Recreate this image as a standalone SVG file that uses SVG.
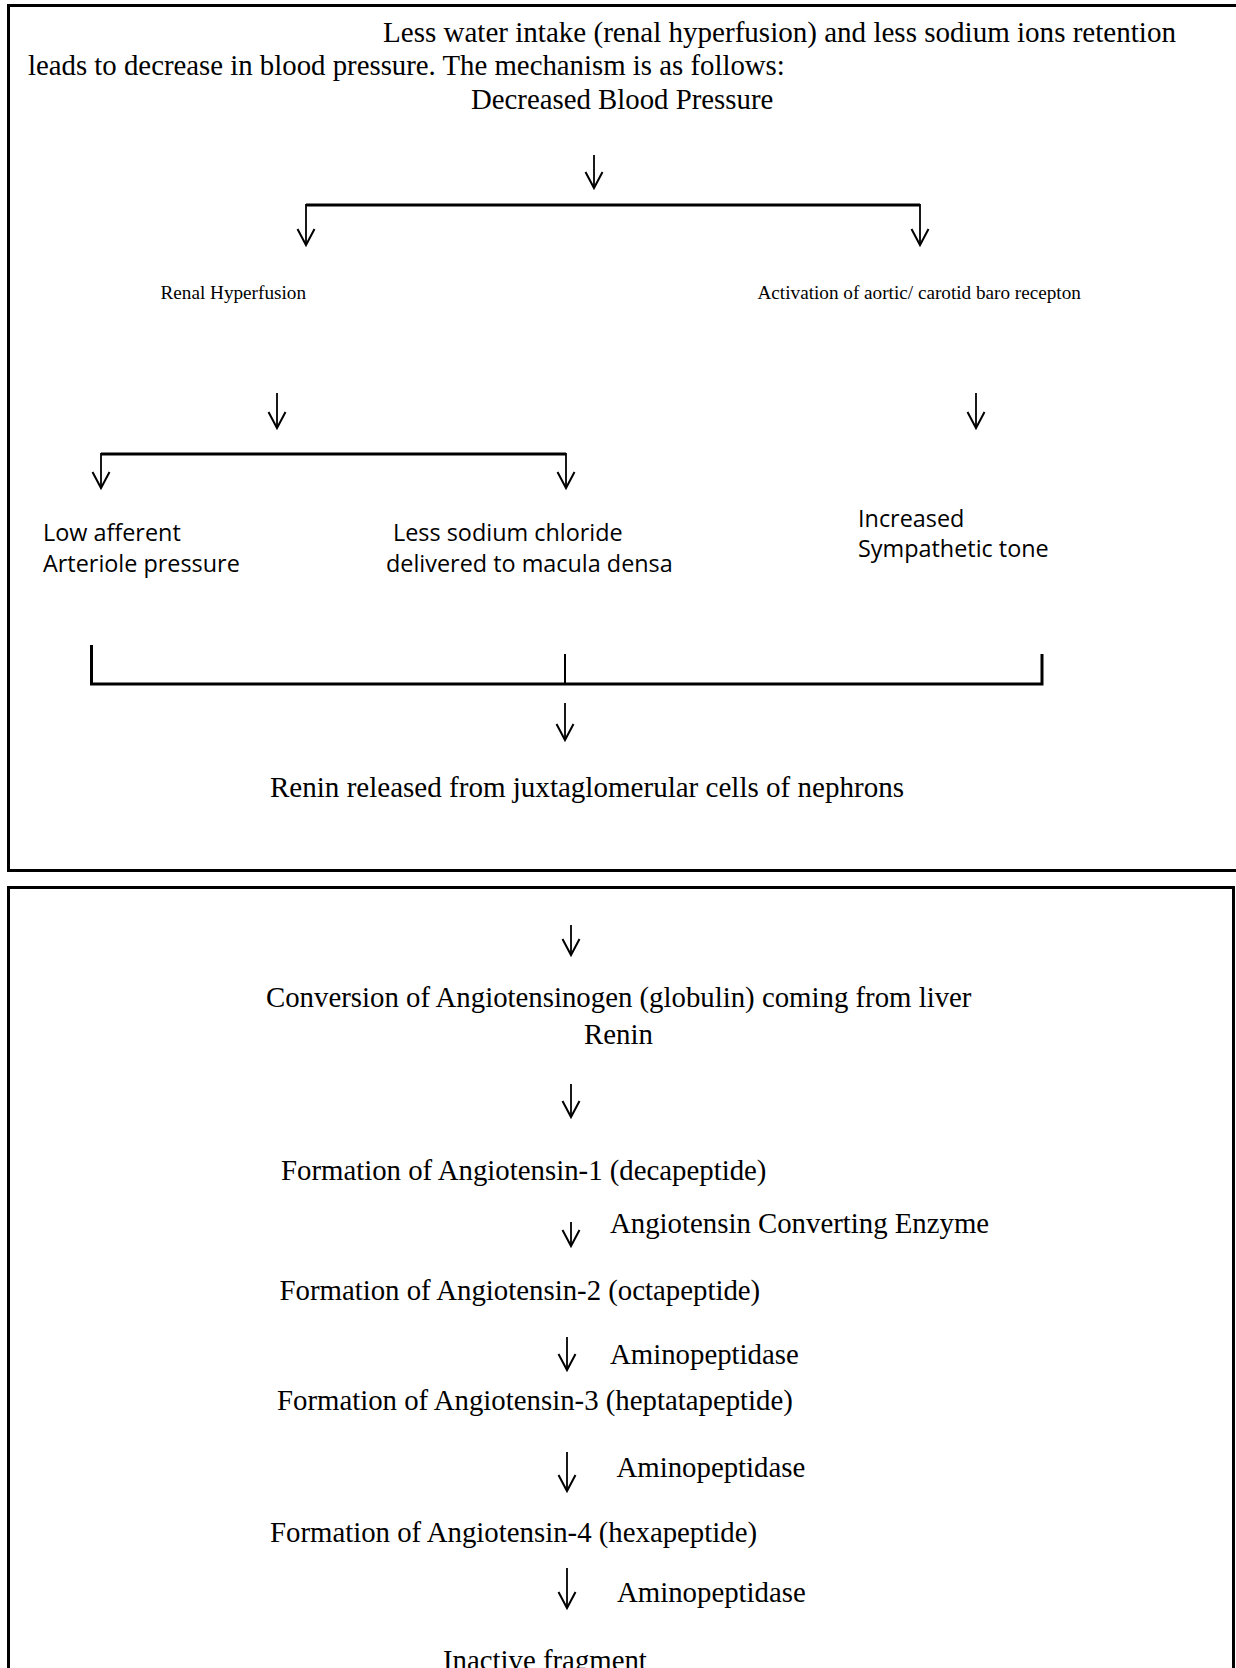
<svg xmlns="http://www.w3.org/2000/svg" width="1236" height="1668" viewBox="0 0 1236 1668">
<style>
.serif{font-family:"Liberation Serif","Times New Roman",serif;fill:#000;}
.big{font-size:28.8px;}
.big2{font-size:29.05px;}
.small{font-size:19.2px;}
.sans{font-family:"Open Sans","Noto Sans",sans-serif;font-size:23.4px;fill:#000;}
.arr{stroke:#000;stroke-width:1.8;fill:none;marker-end:url(#v);}
.bar{stroke:#000;stroke-width:3;fill:none;}
.frame{stroke:#000;stroke-width:3;fill:none;}
</style>
<defs>
<marker id="v" markerUnits="userSpaceOnUse" viewBox="-20 -12 24 24" markerWidth="24" markerHeight="24" refX="0" refY="0" orient="auto" overflow="visible">
<path d="M-16,-8.5 L0,0 L-16,8.5" fill="none" stroke="#000" stroke-width="2"/>
</marker>
</defs>
<rect width="1236" height="1668" fill="#fff"/>
<g id="frames">
<path class="frame" d="M1240,5.5 L8.5,5.5 L8.5,870.5 L1240,870.5"/>
<path class="frame" d="M8.5,1672 L8.5,887.5 L1233.5,887.5 L1233.5,1672"/>
</g>
<g id="intro">
<text class="serif big2" x="383" y="42">Less water intake (renal hyperfusion) and less sodium ions retention</text>
<text class="serif big" x="28" y="75">leads to decrease in blood pressure. The mechanism is as follows:</text>
</g>
<g id="n-decreased-bp"><text class="serif big" x="471" y="109">Decreased Blood Pressure</text></g>
<g id="n-renal-hyper"><text class="serif small" x="160.5" y="299">Renal Hyperfusion</text></g>
<g id="n-baro"><text class="serif small" x="757.5" y="299">Activation of aortic/ carotid baro recepton</text></g>
<g id="n-low-afferent">
<text class="sans" x="43" y="541">Low afferent</text>
<text class="sans" x="43" y="572">Arteriole pressure</text>
</g>
<g id="n-less-nacl">
<text class="sans" x="393" y="541">Less sodium chloride</text>
<text class="sans" x="386" y="572">delivered to macula densa</text>
</g>
<g id="n-sympathetic">
<text class="sans" x="858" y="527">Increased</text>
<text class="sans" x="858" y="557">Sympathetic tone</text>
</g>
<g id="n-renin-released"><text class="serif big2" x="270" y="797">Renin released from juxtaglomerular cells of nephrons</text></g>
<g id="n-conversion">
<text class="serif big" x="266" y="1006.5">Conversion of Angiotensinogen (globulin) coming from liver</text>
<text class="serif big" x="584" y="1044">Renin</text>
</g>
<g id="n-ang1"><text class="serif big" x="281" y="1180">Formation of Angiotensin-1 (decapeptide)</text></g>
<g id="n-ang2"><text class="serif big" x="279.5" y="1300">Formation of Angiotensin-2 (octapeptide)</text></g>
<g id="n-ang3"><text class="serif big" x="277" y="1410">Formation of Angiotensin-3 (heptatapeptide)</text></g>
<g id="n-ang4"><text class="serif big" x="270" y="1542">Formation of Angiotensin-4 (hexapeptide)</text></g>
<g id="n-inactive"><text class="serif big" x="443" y="1670">Inactive fragment</text></g>
<g id="connectors">
<line class="arr" x1="594" y1="155" x2="594" y2="188"/>
<polyline class="bar" points="306,205 920,205"/>
<line class="arr" x1="306" y1="204" x2="306" y2="245"/>
<line class="arr" x1="920" y1="204" x2="920" y2="245"/>
<line class="arr" x1="277" y1="393" x2="277" y2="428"/>
<line class="arr" x1="976" y1="393" x2="976" y2="428"/>
<polyline class="bar" points="101,454 566,454"/>
<line class="arr" x1="101" y1="453" x2="101" y2="488"/>
<line class="arr" x1="566" y1="453" x2="566" y2="488"/>
<polyline class="bar" points="91.5,645 91.5,684 1042,684 1042,654"/>
<line stroke="#000" stroke-width="2" x1="565" y1="654" x2="565" y2="684"/>
<line class="arr" x1="565" y1="703" x2="565" y2="740"/>
<line class="arr" x1="571" y1="925" x2="571" y2="955"/>
<line class="arr" x1="571" y1="1084" x2="571" y2="1117"/>
<line class="arr" x1="571" y1="1222" x2="571" y2="1246"/>
<line class="arr" x1="567" y1="1337" x2="567" y2="1370"/>
<line class="arr" x1="567" y1="1452" x2="567" y2="1491"/>
<line class="arr" x1="567" y1="1568" x2="567" y2="1608"/>
</g>
<g id="edge-labels">
<text class="serif big" x="610" y="1233">Angiotensin Converting Enzyme</text>
<text class="serif big" x="610" y="1364">Aminopeptidase</text>
<text class="serif big" x="616.5" y="1477">Aminopeptidase</text>
<text class="serif big" x="617" y="1602">Aminopeptidase</text>
</g>
</svg>
